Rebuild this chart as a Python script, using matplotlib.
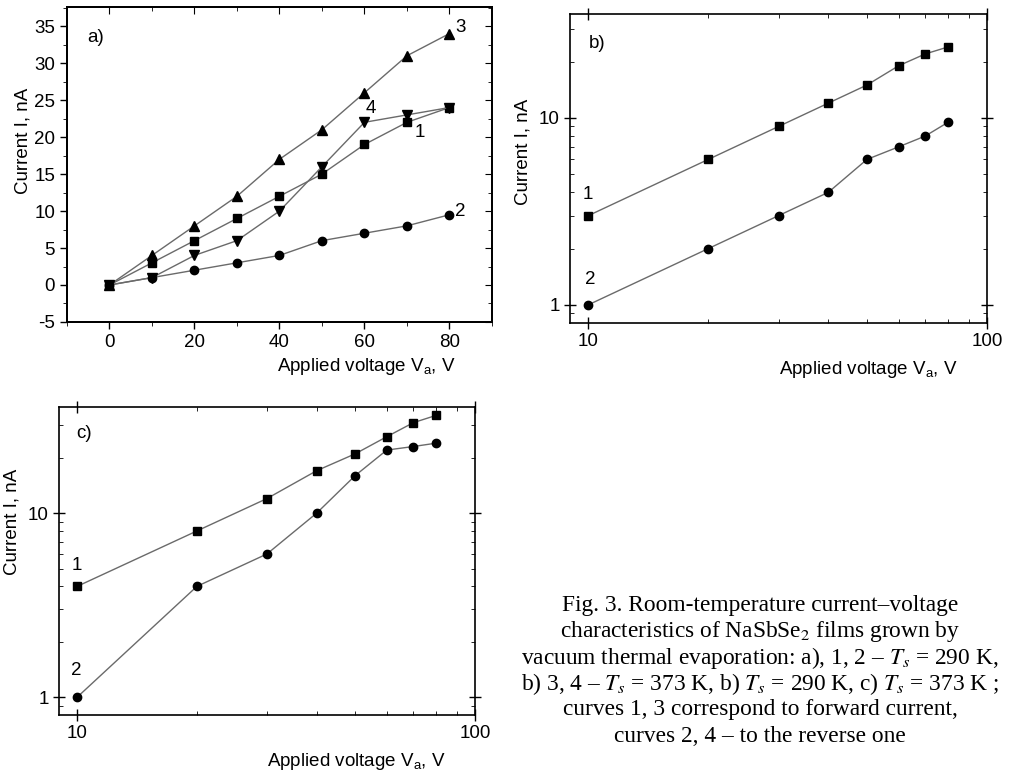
import matplotlib
matplotlib.use("Agg")
import matplotlib.pyplot as plt
from matplotlib.ticker import MultipleLocator, NullFormatter, FixedLocator, FixedFormatter

plt.rcParams['font.family'] = ['Liberation Sans', 'DejaVu Sans']
plt.rcParams['mathtext.fontset'] = 'custom'
plt.rcParams['mathtext.rm'] = 'Liberation Sans'
plt.rcParams['mathtext.it'] = 'Liberation Sans:italic'
plt.rcParams['axes.unicode_minus'] = False

# ---- data ----
volt_a = [0, 10, 20, 30, 40, 50, 60, 70, 80]
a_curve1 = [0, 3, 6, 9, 12, 15, 19, 22, 24]
a_curve2 = [0, 1, 2, 3, 4, 6, 7, 8, 9.5]
a_curve3 = [0, 4, 8, 12, 17, 21, 26, 31, 34]
a_curve4 = [0, 1, 4, 6, 10, 16, 22, 23, 24]

volt_log = [10, 20, 30, 40, 50, 60, 70, 80]
b_curve1 = [3, 6, 9, 12, 15, 19, 22, 24]
b_curve2 = [1, 2, 3, 4, 6, 7, 8, 9.5]
c_curve1 = [4, 8, 12, 17, 21, 26, 31, 34]
c_curve2 = [1, 4, 6, 10, 16, 22, 23, 24]

xlabel = "Applied voltage V$_\\mathrm{a}$, V"
ylabel = "Current I, nA"

caption_lines = [
    "Fig. 3. Room-temperature current\u2013voltage",
    "characteristics of NaSbSe$_2$ films grown by",
    "vacuum thermal evaporation: a), 1, 2 \u2013 $T_s$ = 290 K,",
    "b) 3, 4 \u2013 $T_s$ = 373 K, b) $T_s$ = 290 K, c) $T_s$ = 373 K ;",
    "curves 1, 3 correspond to forward current,",
    "curves 2, 4 \u2013 to the reverse one",
]

LINE_C = '#6a6a6a'
FS = 13.5
LFS = 13.5

fig = plt.figure(figsize=(10.15, 7.71), dpi=100)

def style(ax):
    for s in ax.spines.values():
        s.set_linewidth(1.2)
    ax.tick_params(labelsize=FS, width=1.0)

def plot_series(ax, x, y, marker, ms=6):
    ax.plot(x, y, color=LINE_C, lw=1.0, marker=marker, ms=ms,
            mfc='black', mec='black', zorder=3)

# ---- panel a ----
axa = fig.add_axes([0.066, 0.5824, 0.4187, 0.4086])
plot_series(axa, volt_a, a_curve3, '^', 6.5)
plot_series(axa, volt_a, a_curve1, 's', 5.5)
plot_series(axa, volt_a, a_curve4, 'v', 6.5)
plot_series(axa, volt_a, a_curve2, 'o', 6)
axa.set_xlim(-10, 90)
axa.set_ylim(-5, 37.6)
axa.xaxis.set_major_locator(MultipleLocator(20))
axa.xaxis.set_minor_locator(MultipleLocator(10))
axa.yaxis.set_major_locator(MultipleLocator(5))
axa.yaxis.set_minor_locator(MultipleLocator(2.5))
axa.tick_params(which='both', direction='out', top=False, right=False)
axa.tick_params(which='major', length=5)
axa.tick_params(which='minor', length=3)
style(axa)
# mirrored inward ticks on top/right
axa_t = axa.twiny()
axa_t.set_xlim(axa.get_xlim())
axa_t.xaxis.set_major_locator(MultipleLocator(20))
axa_t.xaxis.set_minor_locator(MultipleLocator(10))
axa_t.tick_params(which='both', direction='in', labeltop=False, top=True)
axa_t.tick_params(which='major', length=5)
axa_t.tick_params(which='minor', length=3)
axa_r = axa.twinx()
axa_r.set_ylim(axa.get_ylim())
axa_r.yaxis.set_major_locator(MultipleLocator(5))
axa_r.yaxis.set_minor_locator(MultipleLocator(2.5))
axa_r.tick_params(which='both', direction='in', labelright=False, right=True)
axa_r.tick_params(which='major', length=5)
axa_r.tick_params(which='minor', length=3)
for t in (axa_t, axa_r):
    for s in t.spines.values():
        s.set_linewidth(1.2)
axa.text(-3.3, 33.5, "a)", fontsize=LFS, ha='center', va='center')
axa.text(81.3, 34.8, "3", fontsize=LFS, ha='left', va='center')
axa.text(61.6, 23.9, "4", fontsize=LFS, ha='center', va='center')
axa.text(73.0, 20.6, "1", fontsize=LFS, ha='center', va='center')
axa.text(82.5, 9.9, "2", fontsize=LFS, ha='center', va='center')
axa.set_xlabel(xlabel, fontsize=LFS, ha='right', x=0.915, labelpad=4)
axa.set_ylabel(ylabel, fontsize=LFS, y=0.575, labelpad=2)

def log_panel(rect, y1, y2, label, lab_pos, ylim, ylab_y):
    ax = fig.add_axes(rect)
    ax.set_xscale('log')
    ax.set_yscale('log')
    plot_series(ax, volt_log, y1, 's', 5.5)
    plot_series(ax, volt_log, y2, 'o', 6)
    ax.set_xlim(9.0, 100)
    ax.set_ylim(*ylim)
    ax.xaxis.set_major_locator(FixedLocator([10, 100]))
    ax.xaxis.set_major_formatter(FixedFormatter(["10", "100"]))
    ax.xaxis.set_minor_locator(FixedLocator([20, 30, 40, 50, 60, 70, 80, 90]))
    ax.xaxis.set_minor_formatter(NullFormatter())
    ax.yaxis.set_major_locator(FixedLocator([1, 10]))
    ax.yaxis.set_major_formatter(FixedFormatter(["1", "10"]))
    ax.yaxis.set_minor_locator(FixedLocator([0.9, 2, 3, 4, 5, 6, 7, 8, 9, 20, 30]))
    ax.yaxis.set_minor_formatter(NullFormatter())
    ax.tick_params(which='both', top=True, right=True)
    ax.tick_params(which='major', direction='inout', length=8)
    ax.tick_params(which='minor', direction='in', length=3)
    style(ax)
    ax.set_xlabel(xlabel, fontsize=LFS, ha='right', x=0.93, labelpad=6)
    ax.set_ylabel(ylabel, fontsize=LFS, y=ylab_y, labelpad=5)
    ax.text(lab_pos[0][0], lab_pos[0][1], label, fontsize=LFS, ha='center', va='center')
    ax.text(lab_pos[1][0], lab_pos[1][1], "1", fontsize=LFS, ha='center', va='center')
    ax.text(lab_pos[2][0], lab_pos[2][1], "2", fontsize=LFS, ha='center', va='center')
    return ax

axb = log_panel([0.5616, 0.5811, 0.4108, 0.4008], b_curve1, b_curve2, "b)",
                [(10.5, 25.0), (10.0, 3.9), (10.1, 1.36)], (0.80, 36), 0.553)

axc = log_panel([0.0581, 0.0726, 0.4099, 0.3995], c_curve1, c_curve2, "c)",
                [(10.4, 27.0), (10.0, 5.2), (9.95, 1.40)], (0.80, 37.7), 0.627)

# ---- caption ----
y0 = 1 - 606 / 771
dy = 26 / 771
for i, line in enumerate(caption_lines):
    fig.text(760 / 1015, y0 - i * dy, line, fontsize=16.8, ha='center', va='center',
             family='Liberation Serif', math_fontfamily='stix')

fig.savefig("out.png", dpi=100)
